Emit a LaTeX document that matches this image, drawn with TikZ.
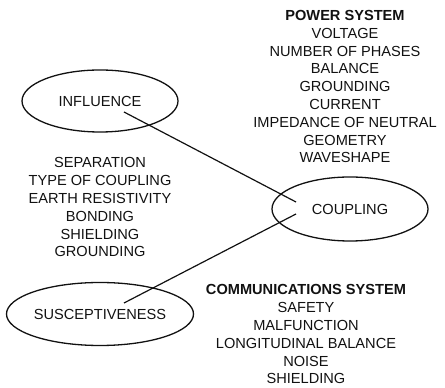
\documentclass[tikz,border=0pt]{standalone}
\usepackage{fontspec}
\setmainfont{Liberation Sans}
\usepackage{tikz}
\usetikzlibrary{shapes.geometric}
\definecolor{kink}{HTML}{111111}

\begin{document}
\begin{tikzpicture}[x=1pt, y=1pt,
  lbl/.style={font=\fontsize{14.6}{17.8}\selectfont, text=kink, align=center, inner sep=0pt},
  factor/.style={lbl, ellipse, draw=kink, line width=1.3pt, minimum width=156pt, minimum height=62pt},
  link/.style={draw=kink, line width=1.2pt}]
\useasboundingbox (0,0) rectangle (445,388);
% the three groups
\node[factor] (infl) at (100,287) {INFLUENCE};
\node[factor, minimum height=64pt] (coup) at (350,179) {COUPLING};
\node[factor, minimum height=63pt] (susc) at (100,74) {SUSCEPTIVENESS};
% factor lists
\node[lbl, anchor=north] (power) at (345,377.8)
  {\textbf{POWER SYSTEM}\\VOLTAGE\\NUMBER OF PHASES\\BALANCE\\GROUNDING\\CURRENT\\IMPEDANCE OF NEUTRAL\\GEOMETRY\\WAVESHAPE};
\node[lbl, anchor=north] (path) at (100,230.5)
  {SEPARATION\\TYPE OF COUPLING\\EARTH RESISTIVITY\\BONDING\\SHIELDING\\GROUNDING};
\node[lbl, anchor=north] (comm) at (306,103.5)
  {\textbf{COMMUNICATIONS SYSTEM}\\SAFETY\\MALFUNCTION\\LONGITUDINAL BALANCE\\NOISE\\SHIELDING};
% links
\draw[link] ([shift={(24,-11)}]infl.center) -- ([shift={(-54,7)}]coup.center);
\draw[link] ([shift={(24,11)}]susc.center) -- ([shift={(-54,-5)}]coup.center);
\end{tikzpicture}
\end{document}
